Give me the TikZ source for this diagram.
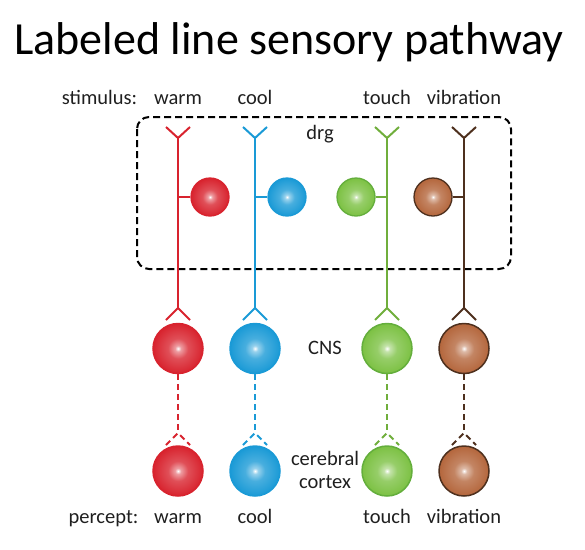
\documentclass[tikz,border=0pt]{standalone}
\usepackage{fontspec}
\setmainfont{Carlito}
\usetikzlibrary{calc}
\definecolor{cred}{HTML}{D8232E}
\definecolor{cblue}{HTML}{1A9AD6}
\definecolor{cgreen}{HTML}{7CC143}
\definecolor{cgreenD}{HTML}{64AE3C}
\definecolor{cbrown}{HTML}{B4663C}
\definecolor{cbrownD}{HTML}{4E301E}
\pgfdeclareradialshading{redball}{\pgfpointorigin}{color(0bp)=(white);color(3bp)=(cred!45!white);color(10bp)=(cred!80!white);color(25bp)=(cred);color(50bp)=(cred!88!black)}
\pgfdeclareradialshading{blueball}{\pgfpointorigin}{color(0bp)=(white);color(3bp)=(cblue!45!white);color(10bp)=(cblue!80!white);color(25bp)=(cblue);color(50bp)=(cblue!88!black)}
\pgfdeclareradialshading{greenball}{\pgfpointorigin}{color(0bp)=(white);color(3bp)=(cgreen!45!white);color(10bp)=(cgreen!80!white);color(25bp)=(cgreen);color(50bp)=(cgreen!90!black)}
\pgfdeclareradialshading{brownball}{\pgfpointorigin}{color(0bp)=(white);color(3bp)=(cbrown!45!white);color(10bp)=(cbrown!80!white);color(25bp)=(cbrown);color(50bp)=(cbrown!90!black)}
\begin{document}
\begin{tikzpicture}[x=1pt,y=-1pt,
  axon/.style={line width=2pt},
  dashaxon/.style={line width=2pt,dash pattern=on 6pt off 4pt},
  celld/.style={circle,minimum size=38pt,inner sep=0pt,line width=1.3pt},
  cellc/.style={circle,minimum size=50pt,inner sep=0pt,line width=1.5pt},
  lbl/.style={font=\fontsize{20.5}{24}\selectfont,anchor=base,text=black!88,inner sep=0pt},
  boxline/.style={line width=2pt,dash pattern=on 7pt off 4pt,rounded corners=12pt}]
\useasboundingbox (0,0) rectangle (585,549);
\node[font=\fontsize{46}{50}\selectfont,anchor=base,inner sep=0pt] (title) at (289,54) {Labeled line sensory pathway};
\draw[boxline] (137,117) rectangle (511,269);
\node[lbl] (stim) at (99.5,104) {stimulus:};
\node[lbl] (perc) at (103.5,523) {percept:};
\node[lbl] (drg) at (320,139.5) {drg};
\node[lbl] (cnslbl) at (325,354.5) {CNS};
\node[lbl] (cer) at (325,465) {cerebral};
\node[lbl] (cor) at (325,488) {cortex};
\foreach \n/\x/\dx/\sh/\ol/\lc/\word in {w/178/32/redball/cred/cred/warm, c/255/32/blueball/cblue/cblue/cool, t/387/-31/greenball/cgreenD/cgreen!90!black/touch, v/464/-31/brownball/cbrownD/cbrownD/vibration}{
  \node[lbl] (s\n) at (\x,104) {\word};
  \node[lbl] (p\n) at (\x,523) {\word};
  \node[celld,shading=\sh,draw=\ol] (drg\n) at (\x+\dx,197) {};
  \node[cellc,shading=\sh,draw=\ol] (cns\n) at (\x,348.5) {};
  \node[cellc,shading=\sh,draw=\ol] (ctx\n) at (\x,471) {};
  \coordinate (j\n) at (\x,138);
  \coordinate (a\n) at (\x,308);
  \coordinate (b\n) at (\x,197);
  \coordinate (d\n) at (\x,433);
  \draw[axon,\lc] (j\n) -- (a\n);
  \draw[axon,\lc] ($(j\n)+(-12,-11)$) -- (j\n) -- ($(j\n)+(12,-11)$);
  \draw[axon,\lc] ($(a\n)+(-12,12)$) -- (a\n) -- ($(a\n)+(12,12)$);
  \draw[axon,\lc] (drg\n) -- (b\n);
  \draw[dashaxon,\lc] (cns\n) -- (d\n);
  \draw[dashaxon,\lc] ($(d\n)+(-12,12)$) -- (d\n) -- ($(d\n)+(12,12)$);
}
\end{tikzpicture}
\end{document}
